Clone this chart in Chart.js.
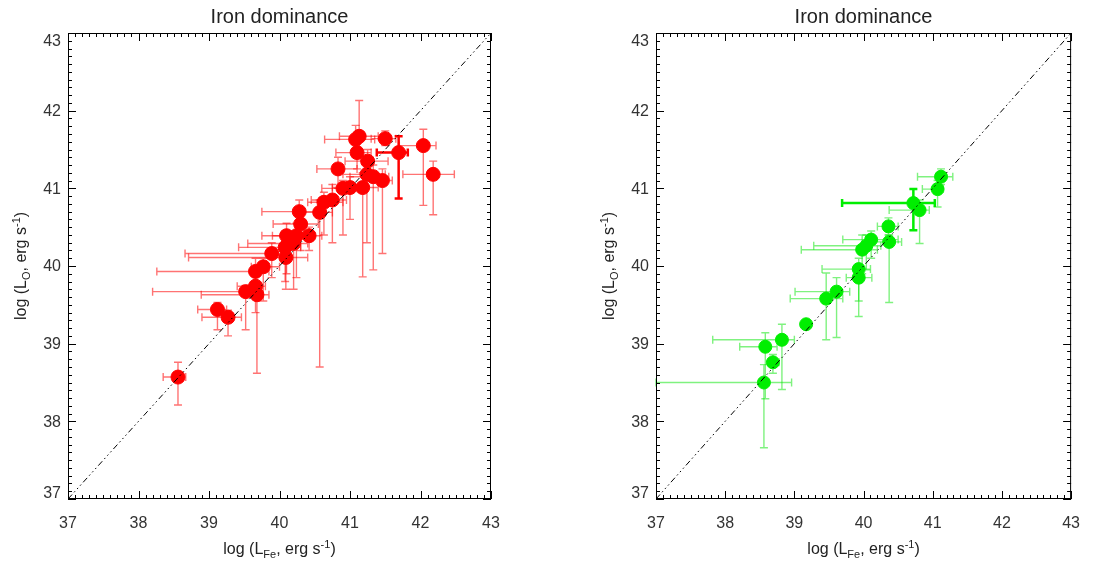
<!DOCTYPE html>
<html>
<head>
<meta charset="utf-8">
<script src="https://cdn.jsdelivr.net/npm/chart.js@4/dist/chart.umd.min.js"></script>
<style>
  body { margin: 0; background: #fff; }
  canvas { position: absolute; top: 0; }
  #left { left: 0; }
  #right { left: 588px; }
</style>
</head>
<body>
<canvas id="left" width="588" height="565"></canvas>
<canvas id="right" width="507" height="565"></canvas>
<script>
// Fe vs O luminosities, log erg/s, with asymmetric error ranges
const redFe   = [38.56, 39.12, 39.27, 39.52, 39.68, 39.66, 39.66, 39.77, 39.89, 40.09, 40.08, 40.20, 40.10, 40.24, 40.42, 40.30, 40.28, 40.57, 40.63, 40.75, 40.90, 41.00, 41.18, 41.24, 41.33, 41.46, 40.83, 41.25, 41.10, 41.08, 41.13, 41.50, 41.69, 42.04, 42.18];
const redO    = [38.57, 39.44, 39.34, 39.67, 39.63, 39.74, 39.93, 39.99, 40.16, 40.11, 40.24, 40.29, 40.39, 40.39, 40.39, 40.54, 40.70, 40.69, 40.82, 40.85, 41.00, 41.01, 41.01, 41.18, 41.15, 41.10, 41.25, 41.35, 41.46, 41.63, 41.67, 41.64, 41.46, 41.55, 41.18];
const redFeLo = [38.35, 38.84, 38.90, 38.20, 38.89, 39.40, 38.26, 39.60, 38.66, 38.71, 39.42, 39.55, 39.75, 39.90, 40.20, 39.91, 39.75, 40.30, 40.40, 40.45, 40.60, 40.75, 40.90, 40.90, 41.00, 41.20, 40.53, 40.93, 40.80, 40.64, 40.85, 41.30, 41.38, 41.70, 41.75];
const redFeHi = [38.67, 39.25, 39.46, 39.75, 39.85, 39.80, 39.85, 40.00, 40.05, 40.40, 40.30, 40.40, 40.35, 40.50, 40.60, 40.55, 40.60, 40.75, 40.90, 40.95, 41.10, 41.25, 41.40, 41.50, 41.55, 41.60, 41.10, 41.54, 41.30, 41.35, 41.40, 41.65, 41.82, 42.22, 42.48];
const redOLo  = [38.21, 39.18, 39.10, 39.18, 38.62, 39.40, 39.70, 39.55, 39.85, 39.70, 39.80, 39.70, 39.90, 39.85, 40.20, 40.20, 40.40, 38.70, 40.40, 40.30, 40.40, 40.60, 39.86, 40.30, 39.95, 40.16, 41.00, 41.10, 41.25, 41.40, 41.45, 41.55, 40.87, 40.78, 40.66];
const redOHi  = [38.76, 39.53, 39.43, 39.75, 39.75, 39.90, 40.10, 40.10, 40.30, 40.25, 40.45, 40.45, 40.55, 40.55, 40.50, 40.70, 40.85, 40.85, 40.95, 41.05, 41.10, 41.15, 41.20, 41.35, 41.30, 41.25, 41.40, 41.50, 41.65, 41.81, 42.13, 41.74, 41.67, 41.76, 41.35];
const redBold = [32];

const greenFe   = [38.56, 38.58, 38.82, 38.69, 39.17, 39.46, 39.61, 39.93, 39.93, 39.98, 40.04, 40.11, 40.36, 40.37, 40.72, 40.81, 41.07, 41.12];
const greenO    = [38.50, 38.96, 39.05, 38.76, 39.25, 39.58, 39.67, 39.85, 39.96, 40.21, 40.26, 40.34, 40.51, 40.31, 40.81, 40.72, 40.99, 41.15];
const greenFeLo = [37.00, 38.21, 37.82, 38.62, 39.17, 38.94, 39.01, 39.75, 39.40, 39.10, 39.28, 39.70, 40.20, 40.11, 39.69, 40.37, 40.85, 40.78];
const greenFeHi = [38.96, 38.75, 39.00, 38.78, 39.17, 39.70, 39.80, 40.12, 40.10, 40.20, 40.25, 40.50, 40.50, 40.55, 41.03, 40.95, 41.15, 41.29];
const greenOLo  = [37.66, 38.29, 38.41, 38.62, 39.25, 39.05, 39.08, 39.35, 39.55, 39.90, 39.95, 40.10, 40.40, 39.53, 40.46, 40.29, 40.76, 41.05];
const greenOHi  = [38.73, 39.14, 39.25, 38.86, 39.25, 39.91, 39.85, 40.00, 40.10, 40.40, 40.40, 40.45, 40.62, 40.40, 40.99, 40.85, 41.10, 41.25];
const greenBold = [14];

const axisMin = 37, axisMax = 43;
const font = "'Liberation Sans', Arial, Helvetica, sans-serif";

// error bars with end caps, drawn under the points
const errorBars = {
  id: 'errorBars',
  beforeDatasetsDraw(chart, args, o) {
    const {ctx, scales: {x, y}} = chart;
    ctx.save();
    for (let i = 0; i < o.fe.length; i++) {
      const bold = o.bold.includes(i);
      ctx.strokeStyle = bold ? o.solid : o.light;
      ctx.lineWidth = bold ? 2.5 : 1.4;
      const px = x.getPixelForValue(o.fe[i]), py = y.getPixelForValue(o.o[i]);
      const x0 = x.getPixelForValue(o.feLo[i]), x1 = x.getPixelForValue(o.feHi[i]);
      const y0 = y.getPixelForValue(o.oLo[i]), y1 = y.getPixelForValue(o.oHi[i]);
      const c = 4;
      ctx.beginPath();
      ctx.moveTo(x0, py); ctx.lineTo(x1, py);
      ctx.moveTo(x0, py - c); ctx.lineTo(x0, py + c);
      ctx.moveTo(x1, py - c); ctx.lineTo(x1, py + c);
      ctx.moveTo(px, y0); ctx.lineTo(px, y1);
      ctx.moveTo(px - c, y0); ctx.lineTo(px + c, y0);
      ctx.moveTo(px - c, y1); ctx.lineTo(px + c, y1);
      ctx.stroke();
    }
    ctx.restore();
  }
};

// closed frame with inward major/minor ticks on all four sides
const frameTicks = {
  id: 'frameTicks',
  afterDatasetsDraw(chart) {
    const {ctx, chartArea: a, scales: {x, y}} = chart;
    ctx.save();
    ctx.strokeStyle = '#000';
    ctx.lineWidth = 1;
    ctx.strokeRect(a.left + 0.5, a.top + 0.5, a.width - 1, a.height - 1);
    ctx.beginPath();
    for (let i = 0; i <= (axisMax - axisMin) * 10; i++) {
      const v = axisMin + i / 10;
      const len = i % 10 === 0 ? 8 : 4;
      const px = Math.round(x.getPixelForValue(v)) + 0.5;
      ctx.moveTo(px, a.bottom); ctx.lineTo(px, a.bottom - len);
      ctx.moveTo(px, a.top); ctx.lineTo(px, a.top + len);
      const py = Math.round(y.getPixelForValue(v)) + 0.5;
      ctx.moveTo(a.left, py); ctx.lineTo(a.left + len, py);
      ctx.moveTo(a.right, py); ctx.lineTo(a.right - len, py);
    }
    ctx.stroke();

    // y tick labels, end labels kept inside the frame height
    ctx.fillStyle = '#333';
    ctx.font = '16px ' + font;
    ctx.textAlign = 'right';
    ctx.textBaseline = 'middle';
    for (const t of y.ticks) {
      const py = Math.min(Math.max(y.getPixelForValue(t.value) + 1, a.top + 9), a.bottom - 5);
      ctx.fillText(String(t.value), a.left - 7, py);
    }
    ctx.restore();
  }
};

// text with sub/superscript pieces
function richWidth(ctx, parts) {
  let w = 0;
  for (const p of parts) {
    ctx.font = (p.sub || p.sup ? 11 : 16) + 'px ' + font;
    w += ctx.measureText(p.t).width;
  }
  return w;
}
function drawRich(ctx, parts, x, y) {
  let cx = x;
  for (const p of parts) {
    ctx.font = (p.sub || p.sup ? 11 : 16) + 'px ' + font;
    const dy = p.sub ? 4 : p.sup ? -6 : 0;
    ctx.fillText(p.t, cx, y + dy);
    cx += ctx.measureText(p.t).width;
  }
}

const xLabel = [{t: 'log (L'}, {t: 'Fe', sub: true}, {t: ', erg s'}, {t: '-1', sup: true}, {t: ')'}];
const yLabel = [{t: 'log (L'}, {t: 'O', sub: true}, {t: ', erg s'}, {t: '-1', sup: true}, {t: ')'}];
const titleText = 'Iron dominance';

const labels = {
  id: 'labels',
  afterDraw(chart) {
    const {ctx, chartArea: a} = chart;
    const cx = (a.left + a.right) / 2, cy = (a.top + a.bottom) / 2;
    ctx.save();
    ctx.fillStyle = '#222';
    ctx.textBaseline = 'alphabetic';
    ctx.textAlign = 'center';
    ctx.font = '20px ' + font;
    ctx.fillText(titleText, cx, 23);
    ctx.textAlign = 'left';
    let w = richWidth(ctx, xLabel);
    drawRich(ctx, xLabel, cx - w / 2, 554);
    ctx.translate(26, cy);
    ctx.rotate(-Math.PI / 2);
    w = richWidth(ctx, yLabel);
    drawRich(ctx, yLabel, -w / 2, 0);
    ctx.restore();
  }
};

function makePanel(id, color, fe, o, feLo, feHi, oLo, oHi, bold, light, radius, padRight) {
  const points = fe.map((v, i) => ({x: v, y: o[i]}));
  return new Chart(document.getElementById(id), {
    type: 'scatter',
    data: {
      datasets: [
        {
          type: 'line',
          data: [{x: axisMin, y: axisMin}, {x: axisMax, y: axisMax}],
          borderColor: '#000',
          borderWidth: 1,
          borderDash: [6, 3, 1.5, 3, 1.5, 3, 1.5, 3],
          pointRadius: 0,
          order: 0
        },
        {
          data: points,
          backgroundColor: color,
          borderColor: color,
          pointRadius: radius,
          order: 1
        }
      ]
    },
    options: {
      responsive: false,
      animation: false,
      devicePixelRatio: 1,
      layout: {padding: {left: 0, top: 33, right: padRight, bottom: 0}},
      scales: {
        x: {
          type: 'linear', min: axisMin, max: axisMax,
          grid: {display: false, drawTicks: false},
          border: {display: false},
          afterFit: s => { s.height = 66; },
          ticks: {stepSize: 1, color: '#333', padding: 15, font: {family: font, size: 16}}
        },
        y: {
          type: 'linear', min: axisMin, max: axisMax,
          grid: {display: false, drawTicks: false},
          border: {display: false},
          afterFit: s => { s.width = 68; },
          ticks: {stepSize: 1, display: false}
        }
      },
      plugins: {
        legend: {display: false},
        tooltip: {enabled: false},
        errorBars: {fe, o, feLo, feHi, oLo, oHi, bold, solid: color, light}
      }
    },
    plugins: [errorBars, frameTicks, labels]
  });
}

makePanel('left', '#ff0000', redFe, redO, redFeLo, redFeHi, redOLo, redOHi, redBold, 'rgba(255,0,0,0.55)', 7, 97);
makePanel('right', '#00ee00', greenFe, greenO, greenFeLo, greenFeHi, greenOLo, greenOHi, greenBold, 'rgba(0,230,0,0.5)', 6.5, 16);
</script>
</body>
</html>
